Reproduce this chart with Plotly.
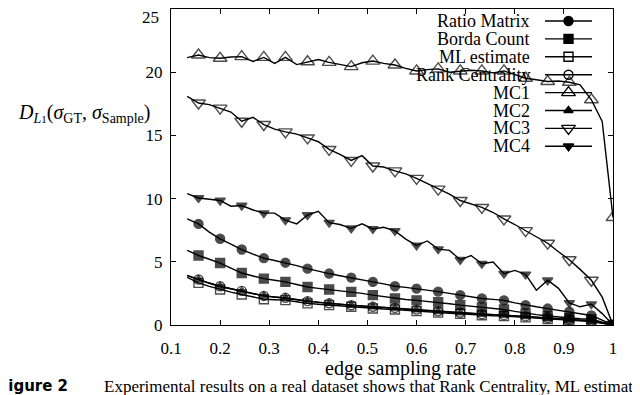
import plotly.graph_objects as go

# edge sampling rates (every other point carries a marker)
rates = [0.133, 0.156, 0.178, 0.2, 0.222, 0.244, 0.267, 0.289, 0.311, 0.333,
         0.356, 0.378, 0.4, 0.422, 0.444, 0.467, 0.489, 0.511, 0.533, 0.556,
         0.578, 0.6, 0.622, 0.644, 0.667, 0.689, 0.711, 0.733, 0.756, 0.778,
         0.8, 0.822, 0.844, 0.867, 0.889, 0.911, 0.933, 0.956, 0.978, 1.0]

ratio_matrix = [8.4, 8.0, 7.35, 6.82, 6.4, 5.97, 5.6, 5.29, 5.1, 4.93,
                4.7, 4.46, 4.25, 4.07, 3.9, 3.75, 3.58, 3.41, 3.25, 3.07,
                2.98, 2.88, 2.75, 2.64, 2.5, 2.36, 2.22, 2.1, 2.03, 1.95,
                1.75, 1.57, 1.44, 1.3, 1.17, 1.05, 0.9, 0.75, 0.38, 0]
borda_count = [5.9, 5.5, 5.2, 4.9, 4.5, 4.11, 3.88, 3.67, 3.54, 3.41,
               3.2, 3.01, 2.9, 2.81, 2.72, 2.62, 2.5, 2.36, 2.23, 2.1,
               2.02, 1.95, 1.88, 1.8, 1.68, 1.57, 1.48, 1.39, 1.3, 1.23,
               1.08, 0.92, 0.82, 0.71, 0.62, 0.53, 0.49, 0.45, 0.22, 0]
ml_estimate = [3.77, 3.33, 3.05, 2.81, 2.6, 2.41, 2.2, 2.04, 2.0, 1.97,
               1.84, 1.71, 1.64, 1.57, 1.5, 1.44, 1.37, 1.31, 1.27, 1.23,
               1.16, 1.1, 1.02, 0.98, 0.93, 0.88, 0.82, 0.77, 0.73, 0.7,
               0.65, 0.6, 0.54, 0.48, 0.42, 0.37, 0.32, 0.27, 0.14, 0]
rank_centrality = [3.93, 3.6, 3.32, 3.07, 2.88, 2.7, 2.5, 2.3, 2.22, 2.15,
                   2.02, 1.89, 1.8, 1.72, 1.64, 1.56, 1.5, 1.44, 1.4, 1.35,
                   1.28, 1.22, 1.15, 1.08, 1.02, 0.97, 0.91, 0.86, 0.82, 0.78,
                   0.73, 0.68, 0.61, 0.55, 0.5, 0.44, 0.39, 0.33, 0.17, 0]
mc1 = [21.15, 21.36, 21.15, 21.1, 21.2, 21.23, 20.85, 21.17, 20.7, 21.17,
       20.6, 20.83, 21.0, 20.78, 20.6, 20.44, 20.75, 20.88, 20.7, 20.57,
       20.3, 20.1, 20.2, 20.26, 20.0, 20.1, 20.15, 20.1, 19.95, 20.1,
       19.8, 19.52, 19.4, 19.26, 19.3, 19.2, 19.0, 17.82, 16.1, 8.5]
mc2 = [3.9, 3.58, 3.3, 3.05, 2.86, 2.68, 2.49, 2.3, 2.21, 2.14,
       2.0, 1.88, 1.79, 1.71, 1.63, 1.55, 1.49, 1.43, 1.39, 1.34,
       1.27, 1.21, 1.14, 1.07, 1.01, 0.96, 0.9, 0.85, 0.81, 0.77,
       0.72, 0.67, 0.6, 0.54, 0.49, 0.43, 0.38, 0.32, 0.16, 0]
mc3 = [18.08, 17.56, 17.43, 17.16, 16.85, 16.12, 16.43, 15.86, 15.5, 15.28,
       15.1, 14.8, 14.5, 13.89, 13.5, 13.02, 13.4, 12.58, 12.5, 12.19,
       11.95, 11.6, 11.2, 10.75, 10.35, 9.85, 9.6, 9.3, 8.9, 8.39,
       7.95, 7.47, 6.95, 6.47, 5.8, 5.16, 4.4, 3.54, 2.2, 0]
mc4 = [10.4, 10.05, 9.95, 9.85, 9.4, 9.45, 9.1, 8.85, 8.85, 8.3,
       8.0, 8.7, 9.0, 8.1, 7.95, 7.65, 8.0, 7.6, 7.73, 7.45,
       6.8, 6.3, 6.65, 6.0, 5.9, 5.16, 5.5, 4.85, 4.98, 4.06,
       4.32, 4.0, 2.75, 3.54, 2.9, 1.75, 1.44, 1.65, 0.9, 0]

y_ticks = [0, 5, 10, 15, 20, 25]

series = [
    ("Ratio Matrix", ratio_matrix, "circle", 9),
    ("Borda Count", borda_count, "square", 9),
    ("ML estimate", ml_estimate, "square-open", 9),
    ("Rank Centrality", rank_centrality, "circle-open", 9),
    ("MC1", mc1, "triangle-up-open", 12),
    ("MC2", mc2, "triangle-up", 8),
    ("MC3", mc3, "triangle-down-open", 12),
    ("MC4", mc4, "triangle-down", 9),
]

FONT = "Liberation Serif"
fig = go.Figure()

for name, vals, sym, size in series:
    sizes = [size if i % 2 == 1 else 0 for i in range(len(rates))]
    fig.add_trace(go.Scatter(
        x=rates, y=vals, mode="lines+markers", name=name, showlegend=False,
        line=dict(color="black", width=1.4),
        marker=dict(symbol=sym, size=sizes, color="black",
                    line=dict(color="black", width=1.4)),
    ))

# the page keeps its 8px body margin, so positions below are page pixels
# converted to paper fractions of the plot box (x 171..613, y 9..325)
def px(page_x):
    return (page_x - 171) / 442


def py(page_y):
    return (325 - page_y) / 316


# hand-drawn legend: right-aligned label, then a short line with the marker
seg_x0, seg_x1, label_x = px(545), px(592), px(532)
for k, (name, vals, sym, size) in enumerate(series):
    ry = py(21 + k * 17.9)
    fig.add_trace(go.Scatter(
        x=[seg_x0, seg_x1], y=[ry, ry], mode="lines", xaxis="x2", yaxis="y2",
        showlegend=False, hoverinfo="skip", line=dict(color="black", width=1.4)))
    fig.add_trace(go.Scatter(
        x=[(seg_x0 + seg_x1) / 2], y=[ry], mode="markers", xaxis="x2", yaxis="y2",
        showlegend=False, hoverinfo="skip",
        marker=dict(symbol=sym, size=size, color="black",
                    line=dict(color="black", width=1.4))))
    fig.add_annotation(x=label_x, y=ry, xref="paper", yref="paper", text=name,
                       showarrow=False, xanchor="right", yanchor="middle",
                       font=dict(family=FONT, size=18, color="black"))

axis_common = dict(
    showgrid=False, zeroline=False, showline=True, linecolor="black", linewidth=1.3,
    mirror="ticks", ticks="inside", ticklen=5, tickwidth=1.2, tickcolor="black",
    tickfont=dict(family=FONT, size=17, color="black"),
)

fig.update_layout(
    width=632, height=387,
    margin=dict(l=163, r=27, t=1, b=70),
    plot_bgcolor="white", paper_bgcolor="white",
    xaxis=dict(range=[0.1, 1.0], tick0=0.1, dtick=0.1, ticklabelstandoff=7, **axis_common),
    yaxis=dict(range=[0, 25], tickvals=y_ticks,
               ticktext=[str(v) if v < 25 else "" for v in y_ticks],
               ticklabelstandoff=4, **axis_common),
    xaxis2=dict(range=[0, 1], overlaying="x", visible=False),
    yaxis2=dict(range=[0, 1], overlaying="y", visible=False),
)

# top tick label would poke above the page, so it sits just under the edge
fig.add_annotation(
    x=px(161), y=y_ticks[-1], xref="paper", yref="y", showarrow=False,
    xanchor="right", yanchor="top", yshift=3, text=str(y_ticks[-1]),
    font=dict(family=FONT, size=17, color="black"))

fig.add_annotation(
    x=px(153), y=py(113), xref="paper", yref="paper", showarrow=False,
    xanchor="right", yanchor="middle",
    text="<i>D</i><sub><i>L</i><span style='font-size:11px'>1</span></sub>"
         "(<i>σ</i><sub>GT</sub>, <i>σ</i><sub>Sample</sub>)",
    font=dict(family=FONT, size=20, color="black"))
fig.add_annotation(
    x=px(400), y=py(368), xref="paper", yref="paper",
    showarrow=False, xanchor="center", yanchor="middle",
    text="edge sampling rate", font=dict(family=FONT, size=20, color="black"))
fig.add_annotation(
    x=px(70), y=py(386), xref="paper", yref="paper",
    showarrow=False, xanchor="right", yanchor="middle",
    text="<b>Figure 2</b>", font=dict(family="DejaVu Sans", size=15, color="black"))
fig.add_annotation(
    x=px(102), y=py(386), xref="paper", yref="paper",
    showarrow=False, xanchor="left", yanchor="middle",
    text="Experimental results on a real dataset shows that Rank Centrality, ML estimat",
    font=dict(family=FONT, size=17, color="black"))

fig.write_html("out.html")
